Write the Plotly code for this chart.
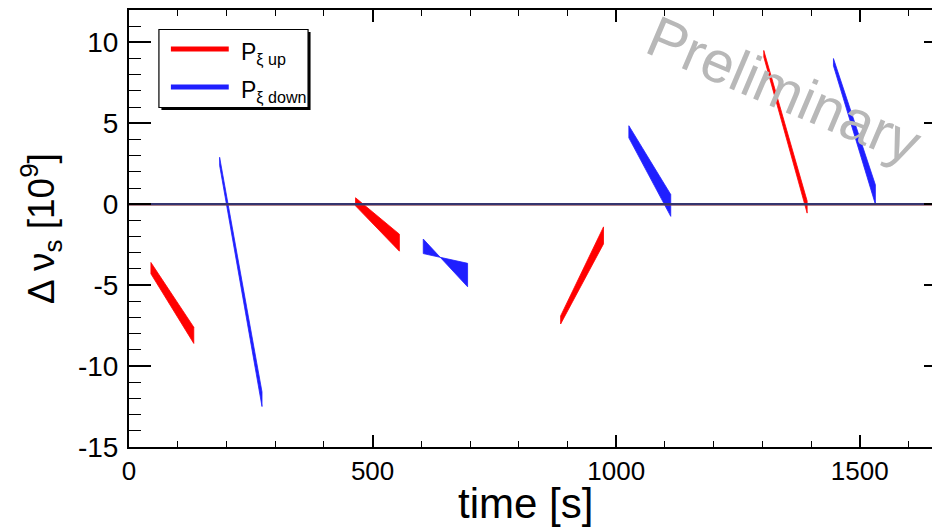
import plotly.graph_objects as go

# ---------------- data ----------------
time_range = [0, 1677]
value_range = [-15, 12]

baseline_t = [0, 1677]
baseline_v = [0, 0]

# P_xi up (red) segments: start/end time, line "a" and line "b" bounds at start and end
red_t0 = [45, 465, 886, 1303]
red_t1 = [133, 555, 974, 1392]
red_a0 = [-3.6, 0.4, -6.9, 9.5]
red_b0 = [-4.3, -0.1, -7.4, 9.1]
red_a1 = [-7.6, -1.85, -1.4, 0.2]
red_b1 = [-8.6, -2.9, -2.45, -0.55]

# P_xi down (blue) segments
blue_t0 = [186, 604, 1026, 1446]
blue_t1 = [273, 695, 1112, 1532]
blue_a0 = [2.9, -2.15, 4.85, 9.0]
blue_b0 = [2.4, -3.05, 4.1, 8.55]
blue_a1 = [-11.6, -5.1, 0.6, 1.2]
blue_b1 = [-12.5, -3.65, -0.75, 0.0]

x_ticks = [0, 500, 1000, 1500]
y_ticks = [-15, -10, -5, 0, 5, 10]

# ---------------- layout geometry ----------------
# The page shows the figure div offset by the default 8px body margin,
# so the div is laid out such that the frame lands where the reference has it
# (frame right edge falls just outside the visible window, as in the reference).
FIG_W, FIG_H = 940, 528
OFF = 8
FRAME_L, FRAME_R, FRAME_T, FRAME_B = 129, 948, 10, 447
ML = FRAME_L - OFF
MR = (FIG_W + OFF) - FRAME_R
MT = FRAME_T - OFF
MB = (FIG_H + OFF) - FRAME_B
PW = FRAME_R - FRAME_L
PH = FRAME_B - FRAME_T


def pxx(x):
    return (x - FRAME_L) / PW


def pxy(y):
    return (FRAME_B - y) / PH


RED = "#ff0000"
BLUE = "#1f1fff"
FONT = "Liberation Sans, Arial, Helvetica, sans-serif"

fig = go.Figure()


def add_bands(t0, t1, a0, b0, a1, b1, color, name):
    for i in range(len(t0)):
        fig.add_trace(go.Scatter(
            x=[t0[i], t1[i], t1[i], t0[i], t0[i]],
            y=[a0[i], a1[i], b1[i], b0[i], a0[i]],
            mode="lines", fill="toself", fillcolor=color,
            line=dict(color=color, width=0.8),
            name=name, showlegend=False, hoverinfo="skip"))


add_bands(red_t0, red_t1, red_a0, red_b0, red_a1, red_b1, RED, "P_xi up")
add_bands(blue_t0, blue_t1, blue_a0, blue_b0, blue_a1, blue_b1, BLUE, "P_xi down")

fig.add_trace(go.Scatter(x=baseline_t, y=baseline_v, mode="lines",
                         line=dict(color="#b04030", width=2.6),
                         showlegend=False, hoverinfo="skip"))
fig.add_trace(go.Scatter(x=baseline_t, y=baseline_v, mode="lines",
                         line=dict(color="#34346e", width=2.2),
                         showlegend=False, hoverinfo="skip"))

# ---------------- manual legend (ROOT style box with shadow) ----------------
shapes = [
    dict(type="rect", xref="paper", yref="paper",
         x0=pxx(161.5), x1=pxx(311), y0=pxy(110), y1=pxy(32),
         fillcolor="black", line=dict(width=0), layer="above"),
    dict(type="rect", xref="paper", yref="paper",
         x0=pxx(159), x1=pxx(308.5), y0=pxy(107.5), y1=pxy(29.5),
         fillcolor="white", line=dict(color="black", width=1.2), layer="above"),
    dict(type="line", xref="paper", yref="paper",
         x0=pxx(171), x1=pxx(229), y0=pxy(49), y1=pxy(49),
         line=dict(color=RED, width=5), layer="above"),
    dict(type="line", xref="paper", yref="paper",
         x0=pxx(171), x1=pxx(229), y0=pxy(87), y1=pxy(87),
         line=dict(color=BLUE, width=5), layer="above"),
]

annotations = [
    dict(text="P<sub>ξ up</sub>", xref="paper", yref="paper",
         x=pxx(239), y=pxy(54), xanchor="left", yanchor="middle",
         showarrow=False, font=dict(size=23, color="black", family=FONT)),
    dict(text="P<sub>ξ down</sub>", xref="paper", yref="paper",
         x=pxx(239), y=pxy(92), xanchor="left", yanchor="middle",
         showarrow=False, font=dict(size=23, color="black", family=FONT)),
    dict(text="Preliminary", xref="paper", yref="paper",
         x=pxx(786), y=pxy(90), xanchor="center", yanchor="middle",
         textangle=23, showarrow=False,
         font=dict(size=58, color="#b8b8b8", family=FONT)),
    dict(text="time [s]", xref="paper", yref="paper",
         x=pxx(526), y=pxy(504), xanchor="center", yanchor="middle",
         showarrow=False, font=dict(size=42, color="black", family=FONT)),
]

fig.update_layout(
    width=FIG_W, height=FIG_H,
    margin=dict(l=ML, r=MR, t=MT, b=MB, pad=0),
    paper_bgcolor="white", plot_bgcolor="white",
    showlegend=False,
    shapes=shapes, annotations=annotations,
    xaxis=dict(
        range=time_range, showgrid=False, zeroline=False,
        showline=True, linecolor="black", linewidth=2, mirror="ticks",
        ticks="inside", ticklen=12, tickwidth=1.5, tickcolor="black",
        tickmode="array", tickvals=x_ticks, ticktext=[str(v) for v in x_ticks],
        minor=dict(ticks="inside", ticklen=6, dtick=100, tick0=0,
                   tickwidth=1.3, tickcolor="black", showgrid=False),
        tickfont=dict(size=26, color="black", family=FONT),
    ),
    yaxis=dict(
        range=value_range, showgrid=False, zeroline=False,
        showline=True, linecolor="black", linewidth=2, mirror="ticks",
        ticks="inside", ticklen=22, tickwidth=1.5, tickcolor="black",
        tickmode="array", tickvals=y_ticks, ticktext=[str(v) for v in y_ticks],
        minor=dict(ticks="inside", ticklen=12, dtick=1, tick0=0,
                   tickwidth=1.3, tickcolor="black", showgrid=False),
        tickfont=dict(size=28, color="black", family=FONT),
        ticklabelstandoff=3,
        title=dict(text="Δ ν<sub>s</sub> [10<sup>9</sup>]",
                   font=dict(size=37, color="black", family=FONT), standoff=12),
    ),
)

fig.write_html("out.html")
